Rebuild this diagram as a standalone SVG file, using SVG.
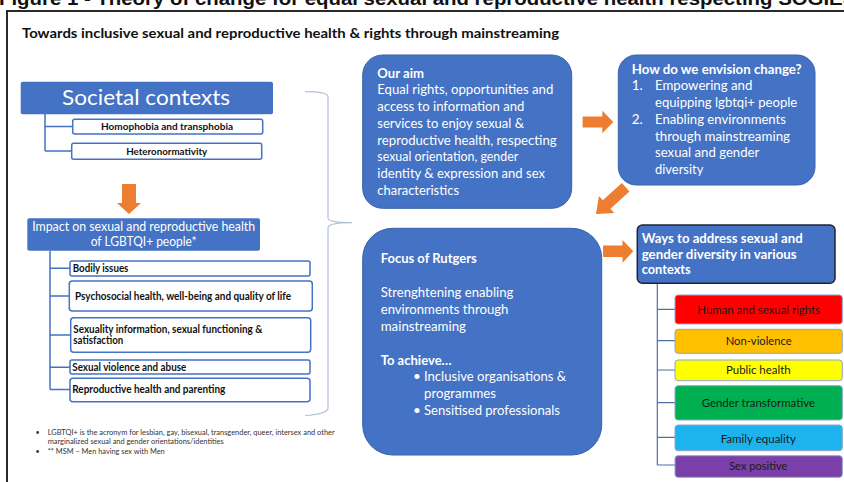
<svg xmlns="http://www.w3.org/2000/svg" width="844" height="482" viewBox="0 0 844 482">
  <style>
    .t { font-family: Lato, "Open Sans", "Liberation Sans", sans-serif; }
    .w { fill: #ffffff; }
    .k { fill: #111111; }
    .b { font-weight: bold; }
    .blue { fill: #4472C4; }
    .rbox { fill: #4472C4; stroke: #3A62AA; stroke-width: 1; }
    .sub { fill: #ffffff; stroke: #4472C4; stroke-width: 1.5; }
    .arrow { fill: #ED7D31; }
    .lnL { stroke: #4472C4; stroke-width: 1.5; fill: none; }
    .lnR { stroke: #4F6FA6; stroke-width: 1.2; fill: none; }
    .way { stroke: #8EA5CF; stroke-width: 1; }
    .fn { font-family: Lato, "Open Sans", "Liberation Sans", sans-serif; font-size: 7.2px; fill: #333333; }
  </style>
  <defs>
    <polygon id="arr" points="-42,-6 -15,-6 -15,-12 0,0 -15,12 -15,6 -42,6"/>
  </defs>

  <rect x="0" y="0" width="844" height="482" fill="#ffffff"/>

  <!-- figure caption, partly clipped at the top edge -->
  <text x="-1" y="5" font-family="'Liberation Sans', Arial, sans-serif" font-weight="bold" font-size="18" fill="#111" textLength="872" lengthAdjust="spacingAndGlyphs">Figure 1 - Theory of change for equal sexual and reproductive health respecting SOGIESC</text>

  <!-- outer frame -->
  <rect x="7" y="11" width="900" height="520" fill="none" stroke="#2a2a2a" stroke-width="2"/>

  <text class="t k b" x="22" y="38" font-size="14" textLength="537" lengthAdjust="spacingAndGlyphs">Towards inclusive sexual and reproductive health &amp; rights through mainstreaming</text>

  <!-- connectors -->
  <g id="connectors">
    <path class="lnL" d="M45,114 V151 M45,126.5 H73 M45,151 H72"/>
    <path class="lnL" d="M50,250.7 V389.5 M50,268.3 H70 M50,296 H69.5 M50,335 H71 M50,367.3 H70 M50,389.5 H70"/>
    <path class="lnR" d="M657.3,283.3 V465 M657.3,309.3 H675 M657.3,340.7 H675 M657.3,370 H675 M657.3,402.7 H675 M657.3,437.3 H675 M657.3,465 H675"/>
    <path d="M305,91.7 C318,91.7 328,93 328,97 L328,218 C328,221 337,222.7 352,222.7 C337,222.7 328,224.5 328,228 L328,408 C328,412 318,414.7 305,415.5" fill="none" stroke="#B3C0DA" stroke-width="1.2"/>
    <polygon class="arrow" points="122,184 136,184 136,203 141,203 129,214 117,203 122,203"/>
    <use href="#arr" class="arrow" transform="translate(613.3,122) scale(0.73,0.93)"/>
    <use href="#arr" class="arrow" transform="translate(633.3,251.3) scale(0.72,0.95)"/>
    <use href="#arr" class="arrow" transform="translate(596,214) rotate(138) scale(0.95,0.95)"/>
  </g>

  <!-- left column -->
  <g id="societal">
    <rect class="blue" x="20.7" y="81.7" width="252.3" height="32.6" rx="2"/>
    <text class="t w" x="146" y="105" font-size="22" text-anchor="middle" textLength="168" lengthAdjust="spacingAndGlyphs">Societal contexts</text>
  </g>
  <g id="homophobia">
    <rect class="sub" x="72.7" y="119.3" width="190" height="14.7" rx="2"/>
    <text class="t k b" x="167" y="130" font-size="10" text-anchor="middle" textLength="132" lengthAdjust="spacingAndGlyphs">Homophobia and transphobia</text>
  </g>
  <g id="heteronormativity">
    <rect class="sub" x="71.7" y="143.3" width="190" height="16" rx="2"/>
    <text class="t k b" x="166.7" y="154.5" font-size="10" text-anchor="middle" textLength="81" lengthAdjust="spacingAndGlyphs">Heteronormativity</text>
  </g>
  <g id="impact">
    <rect class="blue" x="27.3" y="218.3" width="232.7" height="32.4" rx="2"/>
    <text class="t w" x="143.7" y="231" font-size="12.5" text-anchor="middle" textLength="223" lengthAdjust="spacingAndGlyphs">Impact on sexual and reproductive health</text>
    <text class="t w" x="143.7" y="246" font-size="12.5" text-anchor="middle" textLength="106" lengthAdjust="spacingAndGlyphs">of LGBTQI+ people*</text>
  </g>
  <g id="bodily">
    <rect class="sub" x="70" y="261" width="240" height="15" rx="2"/>
    <text class="t k b" x="72.7" y="272" font-size="10.5" textLength="55.7" lengthAdjust="spacingAndGlyphs">Bodily issues</text>
  </g>
  <g id="psychosocial">
    <rect class="sub" x="69.3" y="281" width="243" height="30" rx="3"/>
    <text class="t k b" x="75" y="299.5" font-size="10.5" textLength="216" lengthAdjust="spacingAndGlyphs">Psychosocial health, well-being and quality of life</text>
  </g>
  <g id="sexuality">
    <rect class="sub" x="70.7" y="317.7" width="240" height="34.6" rx="3"/>
    <text class="t k b" x="73.3" y="333" font-size="10.5" textLength="189" lengthAdjust="spacingAndGlyphs">Sexuality information, sexual functioning &amp;</text>
    <text class="t k b" x="73.3" y="344" font-size="10.5" textLength="50" lengthAdjust="spacingAndGlyphs">satisfaction</text>
  </g>
  <g id="violence">
    <rect class="sub" x="70" y="360" width="240" height="14" rx="2"/>
    <text class="t k b" x="72.3" y="371" font-size="10.5" textLength="114" lengthAdjust="spacingAndGlyphs">Sexual violence and abuse</text>
  </g>
  <g id="reproductive">
    <rect class="sub" x="70" y="378.3" width="240" height="23.4" rx="3"/>
    <text class="t k b" x="72.3" y="393" font-size="10.5" textLength="153" lengthAdjust="spacingAndGlyphs">Reproductive health and parenting</text>
  </g>

  <!-- footnotes -->
  <g id="footnotes">
    <text class="fn" x="35.5" y="434.5">•</text>
    <text class="fn" x="47.7" y="434.5" textLength="287" lengthAdjust="spacingAndGlyphs">LGBTQI+ is the acronym for lesbian, gay, bisexual, transgender, queer, intersex and other</text>
    <text class="fn" x="47.7" y="444.2" textLength="176" lengthAdjust="spacingAndGlyphs">marginalized sexual and gender orientations/identities</text>
    <text class="fn" x="35.5" y="454">•</text>
    <text class="fn" x="47.7" y="454" textLength="117" lengthAdjust="spacingAndGlyphs">** MSM – Men having sex with Men</text>
  </g>

  <!-- middle column -->
  <g id="aim">
    <rect class="rbox" x="362.7" y="55" width="209" height="153.3" rx="20"/>
    <g class="t w" font-size="13.5">
      <text class="b" x="377.3" y="77.5" textLength="46.7" lengthAdjust="spacingAndGlyphs">Our aim</text>
      <text x="377.3" y="94.2" textLength="176" lengthAdjust="spacingAndGlyphs">Equal rights, opportunities and</text>
      <text x="377.3" y="111" textLength="147" lengthAdjust="spacingAndGlyphs">access to information and</text>
      <text x="377.3" y="127.7" textLength="146.7" lengthAdjust="spacingAndGlyphs">services to enjoy sexual &amp;</text>
      <text x="377.3" y="144.5" textLength="179.3" lengthAdjust="spacingAndGlyphs">reproductive health, respecting</text>
      <text x="377.3" y="161.2" textLength="141" lengthAdjust="spacingAndGlyphs">sexual orientation, gender</text>
      <text x="377.3" y="178" textLength="167.7" lengthAdjust="spacingAndGlyphs">identity &amp; expression and sex</text>
      <text x="377.3" y="194.7" textLength="81.7" lengthAdjust="spacingAndGlyphs">characteristics</text>
    </g>
  </g>
  <g id="focus">
    <rect class="rbox" x="362.7" y="228.3" width="239" height="226.7" rx="30"/>
    <g class="t w" font-size="13.5">
      <text class="b" x="380.7" y="263" textLength="96" lengthAdjust="spacingAndGlyphs">Focus of Rutgers</text>
      <text x="380.7" y="297" textLength="132.7" lengthAdjust="spacingAndGlyphs">Strenghtening enabling</text>
      <text x="380.7" y="313.7" textLength="127.7" lengthAdjust="spacingAndGlyphs">environments through</text>
      <text x="380.7" y="330.5" textLength="85.3" lengthAdjust="spacingAndGlyphs">mainstreaming</text>
      <text class="b" x="380.7" y="364.5" textLength="71" lengthAdjust="spacingAndGlyphs">To achieve…</text>
      <text x="413" y="381.3">•</text>
      <text x="424" y="381.3" textLength="142" lengthAdjust="spacingAndGlyphs">Inclusive organisations &amp;</text>
      <text x="424" y="398" textLength="72" lengthAdjust="spacingAndGlyphs">programmes</text>
      <text x="413" y="414.8">•</text>
      <text x="424" y="414.8" textLength="136" lengthAdjust="spacingAndGlyphs">Sensitised professionals</text>
    </g>
  </g>

  <!-- right column -->
  <g id="envision">
    <rect class="rbox" x="618.3" y="55" width="196.7" height="130" rx="18"/>
    <g class="t w" font-size="13.5">
      <text class="b" x="631.7" y="74" textLength="170" lengthAdjust="spacingAndGlyphs">How do we envision change?</text>
      <text x="631.7" y="90.3">1.</text>
      <text x="655" y="90.3" textLength="97.3" lengthAdjust="spacingAndGlyphs">Empowering and</text>
      <text x="655" y="107" textLength="142.3" lengthAdjust="spacingAndGlyphs">equipping lgbtqi+ people</text>
      <text x="631.7" y="123.8">2.</text>
      <text x="655" y="123.8" textLength="131" lengthAdjust="spacingAndGlyphs">Enabling environments</text>
      <text x="655" y="140.6" textLength="135" lengthAdjust="spacingAndGlyphs">through mainstreaming</text>
      <text x="655" y="157.3" textLength="104.3" lengthAdjust="spacingAndGlyphs">sexual and gender</text>
      <text x="655" y="174" textLength="48.3" lengthAdjust="spacingAndGlyphs">diversity</text>
    </g>
  </g>
  <g id="ways">
    <rect x="637.3" y="225" width="197.7" height="58.3" rx="5" fill="#4472C4" stroke="#1E2535" stroke-width="1.5"/>
    <g class="t w b" font-size="13">
      <text x="641.7" y="243" textLength="161" lengthAdjust="spacingAndGlyphs">Ways to address sexual and</text>
      <text x="641.7" y="258.5" textLength="155" lengthAdjust="spacingAndGlyphs">gender diversity in various</text>
      <text x="641.7" y="274" textLength="49" lengthAdjust="spacingAndGlyphs">contexts</text>
    </g>
  </g>
  <g id="rights">
    <rect class="way" x="675" y="295" width="167.3" height="29" rx="3" fill="#FF0000"/>
    <text class="t" x="758.7" y="313.5" font-size="11.5" fill="#1a1a1a" text-anchor="middle" textLength="122.7" lengthAdjust="spacingAndGlyphs">Human and sexual rights</text>
  </g>
  <g id="nonviolence">
    <rect class="way" x="675" y="329.3" width="167.3" height="24" rx="3" fill="#FFC000"/>
    <text class="t" x="758.7" y="345" font-size="11.5" fill="#1a1a1a" text-anchor="middle" textLength="66" lengthAdjust="spacingAndGlyphs">Non-violence</text>
  </g>
  <g id="publichealth">
    <rect class="way" x="675" y="360" width="167.3" height="20.7" rx="3" fill="#FFFF00"/>
    <text class="t" x="758.3" y="374.3" font-size="11.5" fill="#1a1a1a" text-anchor="middle" textLength="64.7" lengthAdjust="spacingAndGlyphs">Public health</text>
  </g>
  <g id="gender">
    <rect class="way" x="675" y="385.7" width="167.3" height="34.3" rx="3" fill="#00B050"/>
    <text class="t" x="758.3" y="407" font-size="11.5" fill="#1a1a1a" text-anchor="middle" textLength="113.3" lengthAdjust="spacingAndGlyphs">Gender transformative</text>
  </g>
  <g id="family">
    <rect class="way" x="675" y="425" width="167.3" height="25.7" rx="3" fill="#1DB4EE"/>
    <text class="t" x="758.3" y="442.5" font-size="11.5" fill="#1a1a1a" text-anchor="middle" textLength="75.3" lengthAdjust="spacingAndGlyphs">Family equality</text>
  </g>
  <g id="sexpositive">
    <rect class="way" x="675" y="455.7" width="167.3" height="21.6" rx="3" fill="#7A3FA8"/>
    <text class="t" x="758.3" y="470.2" font-size="11.5" fill="#1a1a1a" text-anchor="middle" textLength="58.3" lengthAdjust="spacingAndGlyphs">Sex positive</text>
  </g>
</svg>
